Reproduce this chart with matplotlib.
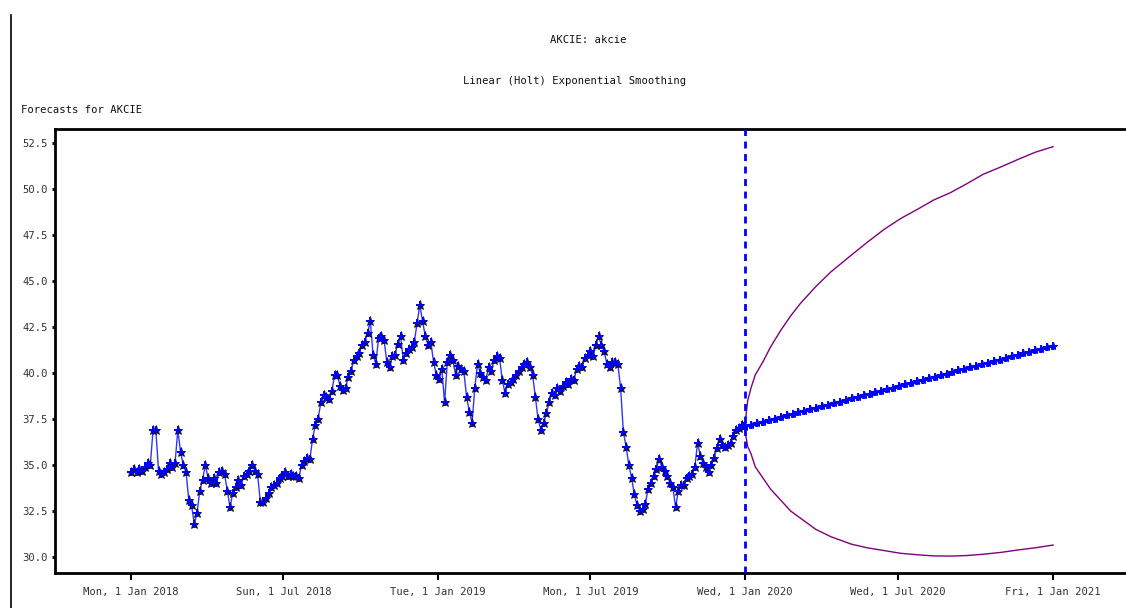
import matplotlib
matplotlib.use("Agg")
import matplotlib.pyplot as plt
from matplotlib.lines import Line2D
import pandas as pd

# ---- data ----
hist_values = [
    34.6, 34.8, 34.6, 34.8, 34.7, 34.9, 35.1, 35.0, 36.9, 36.9, 34.7, 34.5, 34.6, 34.8, 35.1, 34.9,
    35.1, 36.9, 35.7, 35.0, 34.6, 33.1, 32.8, 31.8, 32.4, 33.6, 34.2, 35.0, 34.3, 34.0, 34.3, 34.0,
    34.6, 34.7, 34.5, 33.6, 32.7, 33.5, 33.8, 34.2, 33.9, 34.4, 34.5, 34.7, 35.0, 34.7, 34.5, 33.0,
    33.0, 33.2, 33.5, 33.8, 33.9, 34.0, 34.3, 34.4, 34.6, 34.4, 34.5, 34.4, 34.4, 34.3, 35.0, 35.2,
    35.4, 35.3, 36.4, 37.2, 37.5, 38.4, 38.8, 38.7, 38.6, 39.0, 39.9, 39.9, 39.3, 39.1, 39.2, 39.8,
    40.1, 40.7, 40.9, 41.1, 41.5, 41.7, 42.2, 42.8, 41.0, 40.5, 41.9, 42.0, 41.8, 40.6, 40.3, 40.9,
    41.0, 41.6, 42.0, 40.7, 41.1, 41.3, 41.4, 41.7, 42.7, 43.7, 42.8, 42.0, 41.5, 41.7, 40.6, 39.9,
    39.7, 40.2, 38.4, 40.6, 41.0, 40.7, 39.9, 40.4, 40.2, 40.1, 38.7, 37.9, 37.3, 39.2, 40.5, 40.0,
    39.8, 39.6, 40.3, 40.1, 40.7, 40.9, 40.8, 39.6, 38.9, 39.4, 39.5, 39.7, 39.9, 40.1, 40.3, 40.5,
    40.6, 40.3, 39.9, 38.7, 37.5, 36.9, 37.3, 37.8, 38.4, 38.9, 38.8, 39.2, 39.0, 39.3, 39.5, 39.4,
    39.7, 39.6, 40.2, 40.4, 40.3, 40.8, 41.0, 41.2, 40.9, 41.5, 42.0, 41.5, 41.2, 40.5, 40.3, 40.6,
    40.6, 40.5, 39.2, 36.8, 36.0, 35.0, 34.3, 33.4, 32.8, 32.5, 32.6, 32.9, 33.7, 34.0, 34.4, 34.8,
    35.3, 34.9, 34.7, 34.4, 34.0, 33.8, 32.7, 33.6, 33.9, 33.9, 34.3, 34.4, 34.5, 34.9, 36.2, 35.5,
    35.1, 34.9, 34.6, 35.0, 35.4, 35.9, 36.4, 36.1, 36.0, 36.1, 36.2, 36.6, 36.9, 37.0, 37.2, 37.1,
]
hist_start, hist_end = "2018-01-01", "2019-12-31"

forecast_values = [
    37.10, 37.18, 37.27, 37.35, 37.44, 37.52, 37.61, 37.69, 37.77, 37.86, 37.94, 38.03, 38.11,
    38.20, 38.28, 38.37, 38.45, 38.53, 38.62, 38.70, 38.79, 38.87, 38.96, 39.04, 39.13, 39.21,
    39.29, 39.38, 39.46, 39.55, 39.63, 39.72, 39.80, 39.89, 39.97, 40.05, 40.14, 40.22, 40.31,
    40.39, 40.48, 40.56, 40.65, 40.73, 40.81, 40.90, 40.98, 41.07, 41.15, 41.24, 41.32, 41.41, 41.49,
]
forecast_start, forecast_end = "2020-01-01", "2021-01-01"

band_dates = ["2020-01-01", "2020-01-04", "2020-01-08", "2020-01-13", "2020-01-22", "2020-01-31",
              "2020-02-12", "2020-02-24", "2020-03-07", "2020-03-25", "2020-04-12", "2020-05-06",
              "2020-05-25", "2020-06-14", "2020-07-04", "2020-07-24", "2020-08-12", "2020-09-01",
              "2020-09-21", "2020-10-10", "2020-10-31", "2020-11-20", "2020-12-11", "2021-01-01"]
upper_values = [37.3, 38.5, 39.2, 39.9, 40.6, 41.4, 42.3, 43.1, 43.8, 44.7, 45.5, 46.4,
                47.1, 47.8, 48.4, 48.9, 49.4, 49.8, 50.3, 50.8, 51.2, 51.6, 52.0, 52.3]
lower_values = [36.8, 36.0, 35.6, 34.9, 34.3, 33.7, 33.1, 32.5, 32.1, 31.5, 31.1, 30.7,
                30.5, 30.35, 30.2, 30.12, 30.06, 30.05, 30.08, 30.15, 30.25, 30.38, 30.5, 30.65]

xtick_dates = ["2018-01-01", "2018-07-01", "2019-01-01", "2019-07-01", "2020-01-01", "2020-07-01", "2021-01-01"]
xtick_labels = ["Mon, 1 Jan 2018", "Sun, 1 Jul 2018", "Tue, 1 Jan 2019", "Mon, 1 Jul 2019",
                "Wed, 1 Jan 2020", "Wed, 1 Jul 2020", "Fri, 1 Jan 2021"]
ytick_values = [30.0, 32.5, 35.0, 37.5, 40.0, 42.5, 45.0, 47.5, 50.0, 52.5]
forecast_origin = "2020-01-01"

# ---- figure ----
mono = ["DejaVu Sans Mono", "Liberation Mono"]
FS = 7.6
W, H = 1126, 608
fig = plt.figure(figsize=(W / 100, H / 100), dpi=100)
ax = fig.add_axes([55 / W, 1 - 573 / H, 1 - 55 / W + 0.001, (573 - 129) / H])

hist_dates = pd.date_range(hist_start, hist_end, periods=len(hist_values))
fc_dates = pd.date_range(forecast_start, forecast_end, periods=len(forecast_values))

ax.plot(hist_dates, hist_values, color="#0000ff", lw=1.0, alpha=0.8, zorder=2)
ax.plot(hist_dates, hist_values, ls="none", marker="*", ms=6.5, color="#111111", mew=0.6, zorder=3)
ax.plot(hist_dates, hist_values, ls="none", marker="+", ms=6, color="#0000ff", mew=1.4, zorder=4)

ax.plot(pd.to_datetime(band_dates), upper_values, color="#800080", lw=1.0, zorder=2)
ax.plot(pd.to_datetime(band_dates), lower_values, color="#800080", lw=1.0, zorder=2)

ax.plot(fc_dates, forecast_values, color="#0000ff", lw=1.5, zorder=3)
ax.plot(fc_dates, forecast_values, ls="none", marker="*", ms=6, color="#0000ff", mew=0.8, zorder=4)
ax.plot(fc_dates, forecast_values, ls="none", marker="+", ms=6, color="#0000ff", mew=1.4, zorder=4)

ax.axvline(pd.Timestamp(forecast_origin), color="#0000ff", lw=2, ls=(0, (2.5, 2)), zorder=5)

d0 = pd.Timestamp("2018-01-01")
ax.set_xlim(d0 + pd.Timedelta(days=-90.4), d0 + pd.Timedelta(days=1184))
ax.set_ylim(29.13, 53.26)

ax.set_xticks(pd.to_datetime(xtick_dates))
ax.set_xticklabels(xtick_labels, family=mono, fontsize=FS, color="#333333")
ax.set_yticks(ytick_values)
ax.set_yticklabels([f"{v:.1f}" for v in ytick_values], family=mono, fontsize=FS, color="#333333")
ax.tick_params(axis="x", direction="out", length=5, width=1.5, pad=5, color="black")
ax.tick_params(axis="y", direction="out", length=2, width=2, pad=3, color="black")

for s in ["left", "bottom", "top"]:
    ax.spines[s].set_linewidth(2)
    ax.spines[s].set_color("black")
ax.spines["right"].set_visible(False)

fig.text(588 / W, 1 - 40 / H, "AKCIE: akcie", ha="center", va="center", family=mono, fontsize=FS, color="#111111")
fig.text(575 / W, 1 - 81 / H, "Linear (Holt) Exponential Smoothing", ha="center", va="center",
         family=mono, fontsize=FS, color="#111111")
fig.text(21 / W, 1 - 110 / H, "Forecasts for AKCIE", ha="left", va="center", family=mono, fontsize=FS,
         color="#111111")

fig.add_artist(Line2D([10.5 / W, 10.5 / W], [0, 1 - 15 / H], color="black", lw=1.2, transform=fig.transFigure))

fig.savefig("out.png", dpi=100)
